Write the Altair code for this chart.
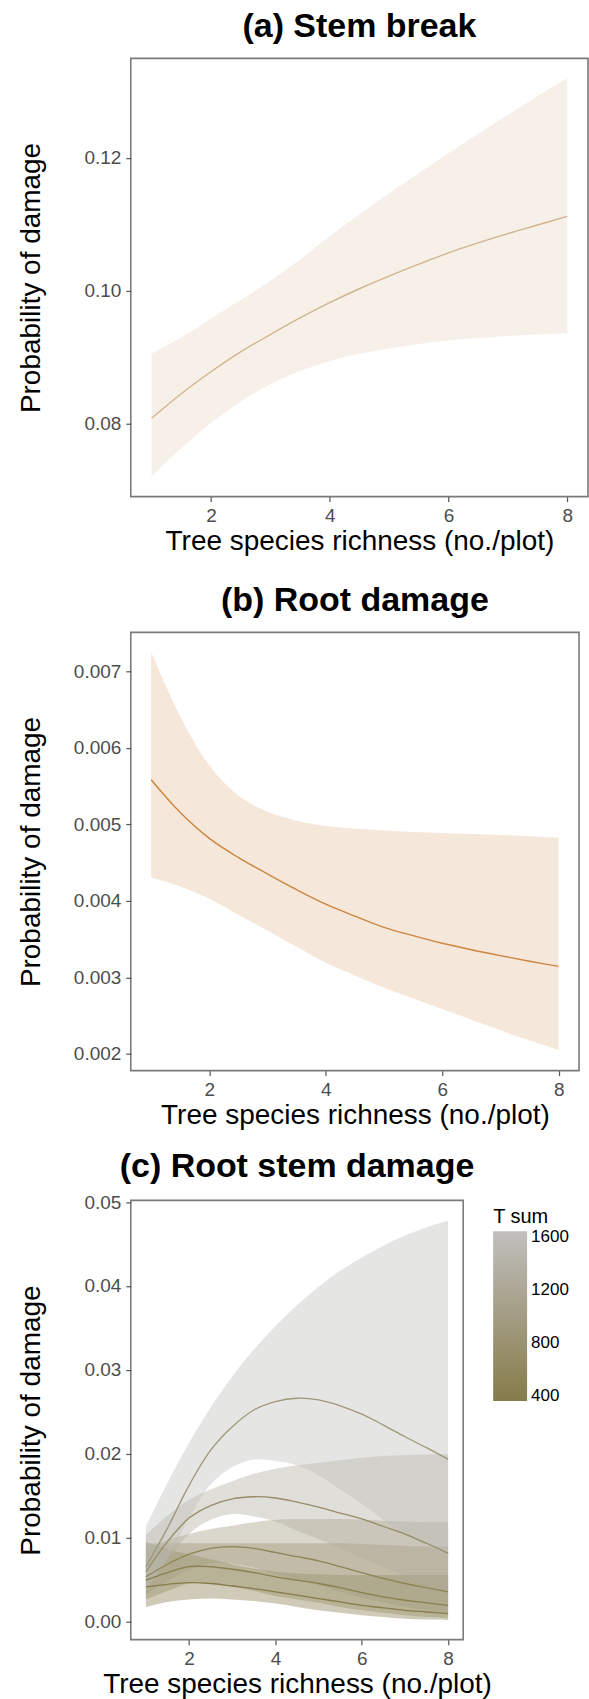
import altair as alt
import pandas as pd

FONT = "Liberation Sans"

# ---------------- data ----------------
X15 = [1, 1.5, 2, 2.5, 3, 3.5, 4, 4.5, 5, 5.5, 6, 6.5, 7, 7.5, 8]

# (a) Stem break
A_FIT = [0.0808, 0.0845, 0.0878, 0.0908, 0.0934, 0.0959, 0.0982, 0.1003, 0.1022, 0.1040, 0.1057, 0.1072, 0.1086, 0.1099, 0.1112]
A_LOW = [0.0721, 0.0763, 0.0801, 0.0833, 0.0859, 0.0879, 0.0894, 0.0905, 0.0913, 0.0920, 0.0925, 0.0929, 0.0932, 0.0934, 0.0936]
A_UPP = [0.0905, 0.0930, 0.0958, 0.0986, 0.1015, 0.1047, 0.1082, 0.1115, 0.1147, 0.1177, 0.1207, 0.1236, 0.1265, 0.1293, 0.1320]

# (b) Root damage
B_FIT = [0.005583, 0.005155, 0.004816, 0.004565, 0.004351, 0.004145, 0.003956, 0.003800, 0.003654, 0.003545, 0.003445, 0.003360, 0.003283, 0.003210, 0.003143]
B_LOW = [0.004305, 0.004189, 0.004026, 0.003817, 0.003608, 0.003399, 0.003190, 0.003024, 0.002864, 0.002724, 0.002586, 0.002446, 0.002307, 0.002177, 0.002051]
B_UPP = [0.007256, 0.006410, 0.005769, 0.005374, 0.005165, 0.005048, 0.004979, 0.004945, 0.004918, 0.004900, 0.004886, 0.004874, 0.004862, 0.004845, 0.004825]

# (c) Root stem damage, one curve per T sum level
C_TSUM = [400, 700, 1000, 1300, 1600]
C_FIT = {
    1600: [0.0065, 0.0111, 0.0162, 0.0204, 0.0232, 0.0252, 0.0262, 0.0266, 0.0264, 0.0257, 0.0247, 0.0234, 0.0220, 0.0207, 0.0193],
    1300: [0.0059, 0.0095, 0.0123, 0.0138, 0.0146, 0.01485, 0.0147, 0.0142, 0.0136, 0.0129, 0.0122, 0.0113, 0.0104, 0.0093, 0.0081],
    1000: [0.0053, 0.0068, 0.0080, 0.0087, 0.0089, 0.0087, 0.0082, 0.0077, 0.0072, 0.0065, 0.0058, 0.0051, 0.0045, 0.0040, 0.0035],
    700:  [0.0049, 0.0058, 0.0065, 0.0065, 0.0062, 0.0058, 0.0053, 0.0049, 0.0045, 0.0040, 0.0034, 0.0029, 0.0025, 0.0022, 0.0019],
    400:  [0.0041, 0.0044, 0.0046, 0.0045, 0.0042, 0.0039, 0.0035, 0.0031, 0.0027, 0.0023, 0.0019, 0.0016, 0.0013, 0.0011, 0.0009],
}
C_UPP = {
    1600: [0.0113, 0.0165, 0.0213, 0.0255, 0.0292, 0.0324, 0.0352, 0.0377, 0.0399, 0.0418, 0.0434, 0.0448, 0.0460, 0.0470, 0.0478],
    1300: [0.0103, 0.0126, 0.0145, 0.0157, 0.0167, 0.0176, 0.0182, 0.0186, 0.0189, 0.0192, 0.0195, 0.0197, 0.0198, 0.0199, 0.0199],
    1000: [0.0087, 0.0097, 0.0104, 0.0110, 0.0114, 0.0118, 0.0121, 0.0122, 0.0122, 0.0122, 0.0121, 0.0120, 0.0119, 0.0118, 0.0118],
    700:  [0.0093, 0.0093, 0.0093, 0.0093, 0.0093, 0.0093, 0.0093, 0.0093, 0.0093, 0.0093, 0.0092, 0.0091, 0.0090, 0.0089, 0.0089],
    400:  [0.0095, 0.0086, 0.0080, 0.0074, 0.0068, 0.0063, 0.0059, 0.0057, 0.0056, 0.0055, 0.0055, 0.0055, 0.0055, 0.0055, 0.0055],
}
C_LOW = {
    1600: [0.0037, 0.0075, 0.0123, 0.0163, 0.0184, 0.0193, 0.0191, 0.0186, 0.0174, 0.0157, 0.0140, 0.0121, 0.0104, 0.0090, 0.0077],
    1300: [0.0034, 0.0072, 0.0104, 0.0121, 0.0128, 0.0125, 0.0119, 0.0108, 0.0098, 0.0087, 0.0076, 0.0065, 0.0054, 0.0043, 0.0033],
    1000: [0.0032, 0.0048, 0.0062, 0.0069, 0.0069, 0.0064, 0.0056, 0.0049, 0.0043, 0.0035, 0.0028, 0.0022, 0.0017, 0.0013, 0.0010],
    700:  [0.0026, 0.0036, 0.0045, 0.0045, 0.0041, 0.0036, 0.0030, 0.0026, 0.0022, 0.0017, 0.0013, 0.0010, 0.0007, 0.0005, 0.0004],
    400:  [0.0017, 0.0023, 0.0026, 0.0027, 0.0026, 0.0024, 0.0021, 0.0017, 0.0013, 0.0010, 0.0007, 0.0005, 0.0003, 0.0002, 0.00015],
}

# ---------------- styles ----------------
TAN = "#D2B48C"
PERU = "#CD853F"
GRAD_LOW = "#867B4A"
GRAD_HIGH = "#C0BFBE"
LINE_COLORS = ["#877B4C", "#8A7F51", "#8E8458", "#968C66", "#9E977A"]  # by C_TSUM order
LABEL_GREY = "#4D4D4D"
BORDER = "#7A7A7A"
XTITLE = "Tree species richness (no./plot)"
YTITLE = "Probability of damage"
CURVE = "catmull-rom"

df_a = pd.DataFrame({"x": X15, "fit": A_FIT, "low": A_LOW, "upp": A_UPP})
df_b = pd.DataFrame({"x": X15, "fit": B_FIT, "low": B_LOW, "upp": B_UPP})
rows = []
for t in C_TSUM:
    for i, xv in enumerate(X15):
        rows.append({"T": t, "x": xv, "fit": C_FIT[t][i], "low": C_LOW[t][i], "upp": C_UPP[t][i]})
df_c = pd.DataFrame(rows)


def x_axis():
    return alt.Axis(values=[2, 4, 6, 8], format="d", title=XTITLE, grid=False, domain=False,
                    labelFont=FONT, labelFontSize=19, labelColor=LABEL_GREY, labelPadding=5,
                    tickColor="#555555", tickSize=5, tickWidth=1.2,
                    titleFont=FONT, titleFontSize=28, titleFontWeight="normal",
                    titleColor="black", titlePadding=2)


def y_axis(values, fmt):
    return alt.Axis(values=values, format=fmt, title=YTITLE, grid=False, domain=False,
                    labelFont=FONT, labelFontSize=19, labelColor=LABEL_GREY, labelPadding=5,
                    tickColor="#555555", tickSize=5, tickWidth=1.2,
                    titleFont=FONT, titleFontSize=28, titleFontWeight="normal",
                    titleColor="black", titleX=-99, titleBaseline="middle")


def title(text, offset):
    return alt.TitleParams(text=text, font=FONT, fontSize=34, fontWeight="bold",
                           color="black", anchor="middle", frame="group", offset=offset)


VIEW = alt.ViewBackground(stroke=BORDER, strokeWidth=1.6, fill="white")
XSCALE = alt.Scale(domain=[0.65, 8.35], nice=False, zero=False)

# ---------------- panel (a) ----------------
ya = alt.Scale(domain=[0.069, 0.135], nice=False, zero=False)
base_a = alt.Chart(df_a)
band_a = base_a.mark_area(color=TAN, fillOpacity=0.2, interpolate=CURVE).encode(
    x=alt.X("x:Q", scale=XSCALE, axis=x_axis()),
    y=alt.Y("low:Q", scale=ya, axis=y_axis([0.08, 0.10, 0.12], ".2f")),
    y2="upp:Q",
)
line_a = base_a.mark_line(color=TAN, strokeWidth=1.4, interpolate=CURVE).encode(
    x="x:Q", y="fit:Q")
panel_a = alt.layer(band_a, line_a).properties(width=458, height=439, view=VIEW,
                                                title=title("(a) Stem break", 14))

# ---------------- panel (b) ----------------
yb = alt.Scale(domain=[0.00178, 0.00751], nice=False, zero=False)
base_b = alt.Chart(df_b)
band_b = base_b.mark_area(color=PERU, fillOpacity=0.2, interpolate=CURVE).encode(
    x=alt.X("x:Q", scale=XSCALE, axis=x_axis()),
    y=alt.Y("low:Q", scale=yb,
            axis=y_axis([0.002, 0.003, 0.004, 0.005, 0.006, 0.007], ".3f")),
    y2="upp:Q",
)
line_b = base_b.mark_line(color=PERU, strokeWidth=1.4, interpolate=CURVE).encode(
    x="x:Q", y="fit:Q")
panel_b = alt.layer(band_b, line_b).properties(width=449, height=439, view=VIEW,
                                                title=title("(b) Root damage", 14))

# ---------------- panel (c) ----------------
yc = alt.Scale(domain=[-0.0022, 0.0502], nice=False, zero=False)
base_c = alt.Chart(df_c)
band_c = base_c.mark_area(fillOpacity=0.4, interpolate=CURVE).encode(
    x=alt.X("x:Q", scale=XSCALE, axis=x_axis()),
    y=alt.Y("low:Q", scale=yc,
            axis=y_axis([0, 0.01, 0.02, 0.03, 0.04, 0.05], ".2f")),
    y2="upp:Q",
    detail="T:N",
    fill=alt.Fill("T:Q",
                  scale=alt.Scale(domain=[365, 1645], range=[GRAD_LOW, GRAD_HIGH],
                                  interpolate="lab"),
                  legend=alt.Legend(orient="none", legendX=363, legendY=1151,
                                    title="T sum", titleFont=FONT, titleFontSize=20,
                                    titleFontWeight="normal", titleColor="black",
                                    titlePadding=4, direction="vertical",
                                    gradientLength=170, gradientThickness=34,
                                    gradientStrokeWidth=0, values=[400, 800, 1200, 1600],
                                    format="d",
                                    labelFont=FONT, labelFontSize=17, labelColor="black",
                                    labelOffset=4, labelOverlap=False)),
)
line_c = base_c.mark_line(strokeWidth=1.3, interpolate=CURVE).encode(
    x="x:Q", y="fit:Q",
    stroke=alt.Stroke("T:O", scale=alt.Scale(domain=C_TSUM, range=LINE_COLORS), legend=None),
)
panel_c = alt.layer(band_c, line_c).properties(width=333, height=440, view=VIEW,
                                                title=title("(c) Root stem damage", 9))

chart = alt.vconcat(
    alt.vconcat(panel_a, panel_b, spacing=27),
    panel_c, spacing=18,
).properties(
    padding={"left": 17, "top": 8, "right": 0, "bottom": 0}
).configure_view(
    stroke=BORDER, strokeWidth=1.6
).configure(background="white")

chart.save("out.html", embed_options={"renderer": "svg", "actions": False})
